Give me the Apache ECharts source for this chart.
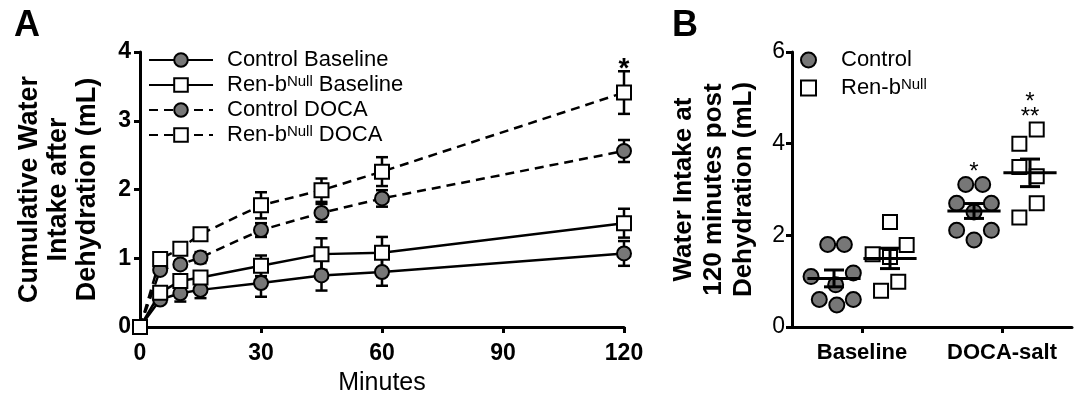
<!DOCTYPE html>
<html>
<head>
<meta charset="utf-8">
<script src="https://cdn.jsdelivr.net/npm/echarts@6/dist/echarts.min.js"></script>
<style>
html, body { margin: 0; padding: 0; background: #fff; }
#chart { width: 1074px; height: 406px; }
</style>
</head>
<body>
<div id="chart"></div>
<script>
// Panel A - cumulative intake (mean, sem) at each time point
const minutes = [0, 5, 10, 15, 30, 45, 60, 120];
const ctrlBase = [0, 0.40, 0.49, 0.54, 0.64, 0.75, 0.80, 1.07];
const ctrlBaseErr = [0, 0.06, 0.12, 0.12, 0.20, 0.22, 0.20, 0.18];
const renBase = [0, 0.50, 0.67, 0.72, 0.89, 1.06, 1.08, 1.51];
const renBaseErr = [0, 0.08, 0.05, 0.06, 0.15, 0.23, 0.23, 0.21];
const ctrlDoca = [0, 0.83, 0.91, 1.01, 1.41, 1.66, 1.87, 2.56];
const ctrlDocaErr = [0, 0.05, 0.06, 0.08, 0.10, 0.13, 0.12, 0.16];
const renDoca = [0, 0.99, 1.14, 1.35, 1.77, 1.99, 2.26, 3.41];
const renDocaErr = [0, 0.05, 0.06, 0.05, 0.19, 0.17, 0.21, 0.31];
const renDocaSig = ['', '', '', '', '', '', '', '*'];

// Panel B - individual animals at 120 min
const groups = ['Baseline', 'DOCA-salt'];
const ctrlBasePts = [1.80, 1.80, 1.10, 1.18, 0.92, 0.60, 0.48, 0.60];
const ctrlBaseJit = [-0.245, -0.126, -0.364, -0.062, -0.188, -0.305, -0.180, -0.062];
const renBasePts = [2.29, 1.79, 1.59, 1.53, 0.99, 0.79];
const renBaseJit = [0.200, 0.319, 0.076, 0.200, 0.259, 0.136];
const ctrlDocaPts = [3.11, 3.11, 2.70, 2.70, 2.51, 2.11, 2.11, 1.90];
const ctrlDocaJit = [-0.259, -0.138, -0.324, -0.076, -0.200, -0.324, -0.076, -0.200];
const renDocaPts = [4.31, 4.00, 3.49, 3.29, 2.70, 2.39];
const renDocaJit = [0.248, 0.124, 0.124, 0.248, 0.248, 0.124];
const ctrlSig = ['', '*'];
const renSig = ['', '*\n**'];

const FONT = '"Liberation Sans", Arial, sans-serif';
const GRAY = '#777777';

function mean(a) { return a.reduce((s, v) => s + v, 0) / a.length; }
function sem(a) {
  const m = mean(a);
  const sd = Math.sqrt(a.reduce((s, v) => s + (v - m) * (v - m), 0) / (a.length - 1));
  return sd / Math.sqrt(a.length);
}

function errRows(y, err, sig) {
  return minutes.map((m, i) => [m, y[i], err[i], sig ? sig[i] : '']);
}

// error bars for panel A
function errBar(params, api) {
  const x = api.value(0), y = api.value(1), e = api.value(2);
  const sig = api.value(3);
  if (!e) return;
  const top = api.coord([x, y + e]);
  const bot = api.coord([x, y - e]);
  const w = 6;
  const st = { stroke: '#000', lineWidth: 2.5 };
  const kids = [
    { type: 'line', shape: { x1: top[0], y1: top[1], x2: bot[0], y2: bot[1] }, style: st },
    { type: 'line', shape: { x1: top[0] - w, y1: top[1], x2: top[0] + w, y2: top[1] }, style: st },
    { type: 'line', shape: { x1: bot[0] - w, y1: bot[1], x2: bot[0] + w, y2: bot[1] }, style: st }
  ];
  if (sig) {
    kids.push({ type: 'text', style: { text: sig, x: top[0], y: top[1] - 2, align: 'center', verticalAlign: 'middle',
      font: 'bold 28px ' + FONT, fill: '#000' } });
  }
  return { type: 'group', children: kids };
}

// mean +/- sem bars for panel B
function meanBar(params, api) {
  const x = api.value(0), m = api.value(1), e = api.value(2), top = api.value(3);
  const sig = api.value(4);
  const half = 0.19;
  const l = api.coord([x - half, m]);
  const r = api.coord([x + half, m]);
  const t = api.coord([x, m + e]);
  const b = api.coord([x, m - e]);
  const w = 10;
  const st = { stroke: '#000', lineWidth: 3 };
  const kids = [
    { type: 'line', shape: { x1: l[0], y1: l[1], x2: r[0], y2: r[1] }, style: st },
    { type: 'line', shape: { x1: t[0], y1: t[1], x2: b[0], y2: b[1] }, style: st },
    { type: 'line', shape: { x1: t[0] - w, y1: t[1], x2: t[0] + w, y2: t[1] }, style: st },
    { type: 'line', shape: { x1: b[0] - w, y1: b[1], x2: b[0] + w, y2: b[1] }, style: st }
  ];
  if (sig) {
    const p = api.coord([x, top]);
    kids.push({ type: 'text', style: { text: sig, x: p[0], y: p[1] - 5, align: 'center', verticalAlign: 'bottom',
      font: '24px ' + FONT, fill: '#000', lineHeight: 15 } });
  }
  return { type: 'group', children: kids };
}

function meanRows(list) {
  return list.map(g => [g.x, mean(g.pts), sem(g.pts), Math.max.apply(null, g.pts), g.sig]);
}

function pts(vals, jit, gi) { return vals.map((v, i) => [gi + jit[i], v]); }

const lineSeries = (name, data, sym, fill, dashed) => ({
  name: name, type: 'line', xAxisIndex: 0, yAxisIndex: 0,
  data: minutes.map((m, i) => [m, data[i]]),
  symbol: sym, symbolSize: 14, showAllSymbol: true, z: 3,
  itemStyle: { color: fill, borderColor: '#000', borderWidth: 2 },
  lineStyle: { color: '#000', width: 2.5, type: dashed ? [9, 6] : 'solid' }
});

const axisCommon = {
  axisLine: { show: true, onZero: false, lineStyle: { color: '#000', width: 3 } },
  axisTick: { show: true, length: 6, lineStyle: { color: '#000', width: 3 } },
  splitLine: { show: false }
};

const option = {
  animation: false,
  backgroundColor: '#fff',
  textStyle: { fontFamily: FONT },
  grid: [
    { left: 140, top: 52, width: 484, height: 275 },
    { left: 792, top: 52, width: 280, height: 275 }
  ],
  xAxis: [
    Object.assign({}, axisCommon, {
      gridIndex: 0, type: 'value', min: 0, max: 120, interval: 30,
      axisLabel: { fontSize: 23, fontWeight: 'bold', color: '#000', margin: 15, fontFamily: FONT },
      name: 'Minutes', nameLocation: 'middle', nameGap: 44,
      nameTextStyle: { fontSize: 25, color: '#000', fontFamily: FONT }
    }),
    Object.assign({}, axisCommon, {
      gridIndex: 1, type: 'value', min: -0.5, max: 1.5,
      axisTick: { show: true, length: 6, customValues: [0, 1], lineStyle: { color: '#000', width: 3 } },
      axisLabel: { customValues: [0, 1], fontSize: 22, fontWeight: 'bold', color: '#000', margin: 15, fontFamily: FONT,
        formatter: v => groups[Math.round(v)] }
    })
  ],
  yAxis: [
    Object.assign({}, axisCommon, {
      gridIndex: 0, type: 'value', min: 0, max: 4, interval: 1,
      axisLabel: { fontSize: 23, fontWeight: 'bold', color: '#000', margin: 9, fontFamily: FONT },
      name: 'Cumulative Water\nIntake after\nDehydration (mL)', nameLocation: 'middle', nameGap: 38,
      nameTextStyle: { fontSize: 27, fontWeight: 'bold', color: '#000', lineHeight: 29, fontFamily: FONT }
    }),
    Object.assign({}, axisCommon, {
      gridIndex: 1, type: 'value', min: 0, max: 6, interval: 2,
      axisLabel: { fontSize: 23, color: '#000', margin: 7, fontFamily: FONT },
      name: 'Water Intake at\n120 minutes post\nDehydration (mL)', nameLocation: 'middle', nameGap: 33,
      nameTextStyle: { fontSize: 26, fontWeight: 'bold', color: '#000', lineHeight: 30, fontFamily: FONT }
    })
  ],
  legend: [
    {
      data: ['Control Baseline', 'Ren-bNull Baseline', 'Control DOCA', 'Ren-bNull DOCA'],
      orient: 'vertical', left: 148, top: 49, padding: 0,
      itemWidth: 64, itemHeight: 17, itemGap: 3,
      formatter: n => n.replace('Null', '{sup|Null}'),
      textStyle: { fontSize: 22, color: '#000', lineHeight: 22, padding: [0, 0, 0, 9], fontFamily: FONT,
        rich: { sup: { fontSize: 15, lineHeight: 22, verticalAlign: 'top', color: '#000', fontFamily: FONT } } }
    },
    {
      data: ['Control', 'Ren-bNull'],
      orient: 'vertical', left: 800, top: 49, padding: 0,
      itemWidth: 15, itemHeight: 15, itemGap: 6,
      formatter: n => n.replace('Null', '{sup|Null}'),
      textStyle: { fontSize: 22, color: '#000', lineHeight: 22, padding: [0, 0, 0, 20], fontFamily: FONT,
        rich: { sup: { fontSize: 15, lineHeight: 22, verticalAlign: 'top', color: '#000', fontFamily: FONT } } }
    }
  ],
  graphic: [
    { type: 'text', left: 14, top: 8, style: { text: 'A', font: 'bold 36px ' + FONT, fill: '#000' } },
    { type: 'text', left: 672, top: 8, style: { text: 'B', font: 'bold 36px ' + FONT, fill: '#000' } }
  ],
  series: [
    { type: 'custom', xAxisIndex: 0, yAxisIndex: 0, renderItem: errBar, z: 2, data: errRows(ctrlBase, ctrlBaseErr) },
    { type: 'custom', xAxisIndex: 0, yAxisIndex: 0, renderItem: errBar, z: 2, data: errRows(renBase, renBaseErr) },
    { type: 'custom', xAxisIndex: 0, yAxisIndex: 0, renderItem: errBar, z: 2, data: errRows(ctrlDoca, ctrlDocaErr) },
    { type: 'custom', xAxisIndex: 0, yAxisIndex: 0, renderItem: errBar, z: 2, data: errRows(renDoca, renDocaErr, renDocaSig) },
    lineSeries('Control Baseline', ctrlBase, 'circle', GRAY, false),
    lineSeries('Ren-bNull Baseline', renBase, 'rect', '#fff', false),
    lineSeries('Control DOCA', ctrlDoca, 'circle', GRAY, true),
    lineSeries('Ren-bNull DOCA', renDoca, 'rect', '#fff', true),
    {
      name: 'Control', type: 'scatter', xAxisIndex: 1, yAxisIndex: 1, symbol: 'circle', symbolSize: 15, z: 3,
      itemStyle: { color: GRAY, borderColor: '#000', borderWidth: 2, opacity: 1 },
      data: pts(ctrlBasePts, ctrlBaseJit, 0).concat(pts(ctrlDocaPts, ctrlDocaJit, 1))
    },
    {
      name: 'Ren-bNull', type: 'scatter', xAxisIndex: 1, yAxisIndex: 1, symbol: 'rect', symbolSize: 14, z: 3,
      itemStyle: { color: '#fff', borderColor: '#000', borderWidth: 2, opacity: 1 },
      data: pts(renBasePts, renBaseJit, 0).concat(pts(renDocaPts, renDocaJit, 1))
    },
    {
      type: 'custom', xAxisIndex: 1, yAxisIndex: 1, renderItem: meanBar, z: 4,
      data: meanRows([
        { x: -0.2, pts: ctrlBasePts, sig: ctrlSig[0] },
        { x: 0.2, pts: renBasePts, sig: renSig[0] },
        { x: 0.8, pts: ctrlDocaPts, sig: ctrlSig[1] },
        { x: 1.2, pts: renDocaPts, sig: renSig[1] }
      ])
    }
  ]
};

const chart = echarts.init(document.getElementById('chart'));
chart.setOption(option);
</script>
</body>
</html>
